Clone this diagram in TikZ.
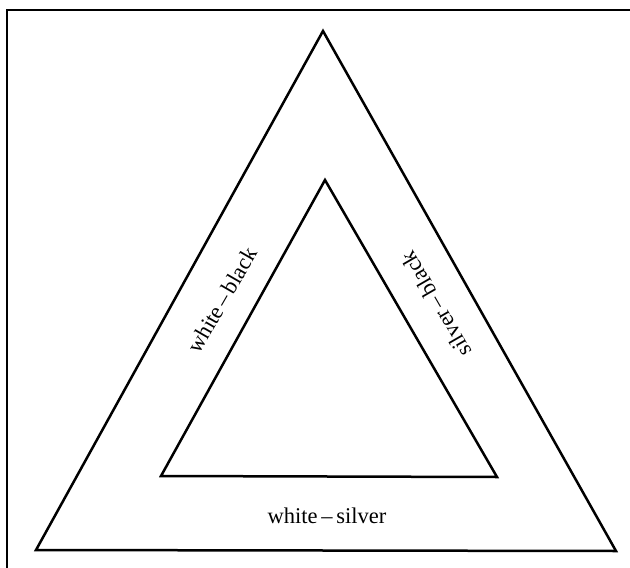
\documentclass[tikz,border=0pt]{standalone}
\usepackage{fontspec}
\setmainfont{Liberation Serif}
\begin{document}
\begin{tikzpicture}[x=1pt,y=-1pt,
  edge/.style={line width=2.5pt,line join=miter},
  frame/.style={line width=2.6pt},
  lbl/.style={font=\fontsize{22.5}{26}\selectfont,inner sep=0pt}]
\useasboundingbox (0,0) rectangle (630,568);
\draw[frame] (7,10) rectangle (640,580);
% outer triangle
\coordinate (oa) at (323,31);
\coordinate (ol) at (36,550);
\coordinate (or) at (616,551);
% inner triangle
\coordinate (ia) at (325,180);
\coordinate (il) at (161,476);
\coordinate (ir) at (497,477);
\draw[edge] (oa) -- (ol) -- (or) -- cycle;
\draw[edge] (ia) -- (il) -- (ir) -- cycle;
\node[lbl,rotate=60] (wb) at (222,300) {white\,–\,black};
\node[lbl,rotate=120] (sb) at (436,304) {silver\,–\,black};
\node[lbl] (ws) at (327,516) {white\,–\,silver};
\end{tikzpicture}
\end{document}
